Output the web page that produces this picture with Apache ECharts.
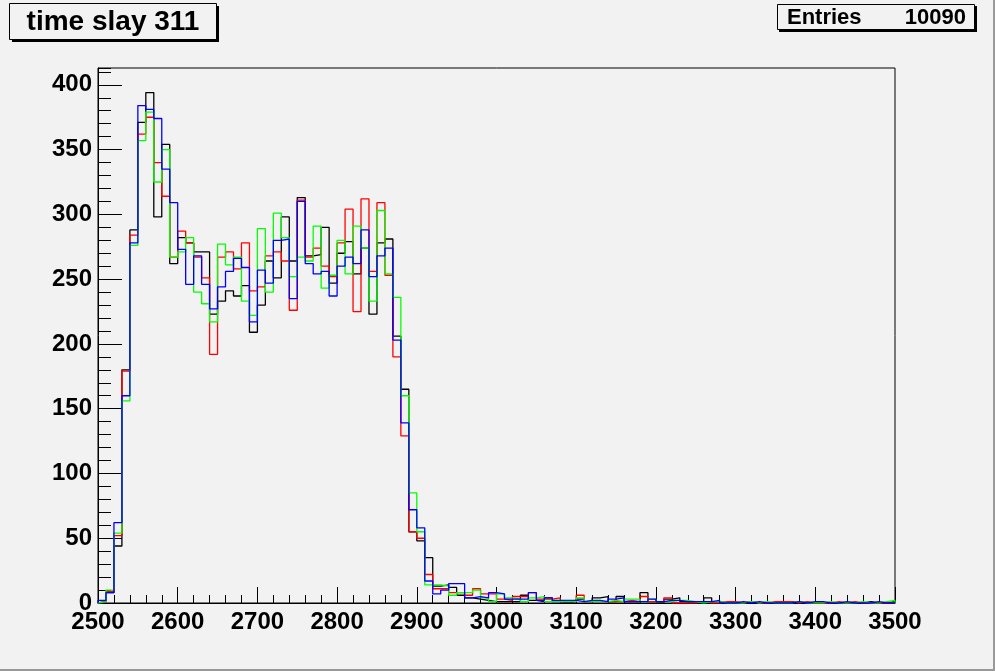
<!DOCTYPE html>
<html><head><meta charset="utf-8">
<script src="https://cdn.jsdelivr.net/npm/echarts@6/dist/echarts.min.js"></script>
<style>html,body{margin:0;padding:0;background:#f2f2f2}#c{width:995px;height:671px}</style>
</head><body><div id="c"></div>
<script>
const binStart = 2500;
const binWidth = 10;
const titleText = 'time slay 311';
const statsLabel = 'Entries';
const statsValue = '10090';

const blackVals = [
  1, 8, 44, 180, 288, 371, 394, 298, 354, 262,
  282, 278, 271, 271, 223, 233, 241, 237, 245, 209,
  230, 264, 251, 298, 264, 313, 268, 269, 290, 247,
  270, 279, 254, 274, 223, 278, 281, 206, 165, 55,
  48, 35, 13, 14, 12, 6, 4, 3, 2, 1,
  1, 1, 1, 6, 2, 1, 4, 1, 0, 1,
  3, 1, 4, 5, 1, 5, 1, 1, 8, 1,
  0, 3, 4, 1, 1, 0, 4, 1, 0, 0,
  0, 0, 0, 0, 0, 0, 1, 0, 0, 0,
  0, 0, 0, 0, 0, 0, 1, 0, 0, 1
];
const redVals = [
  1, 9, 52, 179, 284, 362, 375, 340, 314, 267,
  287, 278, 267, 251, 192, 267, 271, 258, 278, 241,
  244, 268, 271, 264, 226, 311, 267, 274, 260, 252,
  278, 304, 225, 312, 256, 309, 253, 190, 129, 55,
  50, 22, 11, 11, 8, 8, 6, 11, 7, 7,
  3, 2, 5, 5, 8, 3, 3, 4, 1, 1,
  6, 1, 1, 1, 1, 1, 2, 1, 5, 1,
  1, 4, 0, 0, 0, 1, 0, 0, 1, 1,
  0, 1, 0, 0, 1, 1, 1, 0, 1, 0,
  0, 0, 1, 0, 1, 0, 0, 0, 0, 0
];
const greenVals = [
  1, 10, 54, 156, 276, 357, 379, 325, 350, 267,
  271, 282, 240, 231, 217, 277, 261, 267, 233, 222,
  289, 240, 301, 282, 252, 267, 264, 291, 243, 253,
  280, 254, 291, 274, 233, 303, 254, 236, 160, 85,
  55, 14, 14, 13, 6, 8, 8, 10, 4, 1,
  7, 4, 3, 1, 4, 5, 1, 1, 1, 1,
  4, 1, 1, 1, 2, 1, 3, 3, 1, 3,
  1, 1, 2, 2, 1, 0, 1, 1, 0, 0,
  0, 1, 0, 1, 0, 0, 0, 1, 0, 0,
  0, 1, 0, 0, 0, 1, 0, 0, 1, 2
];
const blueVals = [
  2, 8, 62, 160, 278, 384, 381, 374, 335, 309,
  273, 246, 268, 246, 227, 244, 256, 266, 259, 217,
  257, 247, 280, 281, 235, 310, 262, 254, 256, 237,
  260, 267, 262, 288, 252, 268, 274, 203, 139, 72,
  58, 17, 7, 10, 15, 15, 4, 5, 4, 8,
  7, 3, 3, 3, 8, 2, 4, 2, 2, 2,
  1, 2, 2, 1, 3, 4, 1, 1, 1, 3,
  1, 2, 2, 1, 1, 1, 1, 2, 0, 0,
  1, 0, 1, 0, 0, 0, 0, 1, 0, 1,
  1, 0, 0, 1, 0, 0, 0, 1, 0, 0
];

function steps(vals) {
  const pts = [[binStart, 0]];
  vals.forEach((v, i) => pts.push([binStart + i * binWidth, v]));
  const end = binStart + vals.length * binWidth;
  pts.push([end, vals[vals.length - 1]]);
  pts.push([end, 0]);
  return pts;
}
function hist(name, vals, color) {
  return {
    name: name, type: 'line', step: 'end', data: steps(vals),
    showSymbol: false, symbol: 'none', animation: false,
    lineStyle: { color: color, width: 1.3 }, silent: true
  };
}

const FONT = 'Liberation Sans';
const chart = echarts.init(document.getElementById('c'), null, { renderer: 'canvas' });
const labelStyle = { color: '#000', fontFamily: FONT, fontWeight: 'bold', fontSize: 24, formatter: v => String(v) };
chart.setOption({
  animation: false,
  backgroundColor: '#f2f2f2',
  grid: { left: 98, right: 100, top: 68, bottom: 68, show: true, borderColor: '#000', borderWidth: 1, backgroundColor: '#f2f2f2' },
  xAxis: {
    type: 'value', min: 2500, max: 3500, interval: 100,
    axisLine: { show: true, onZero: false, lineStyle: { color: '#000', width: 1 } },
    axisTick: { show: true, inside: true, length: 16, lineStyle: { color: '#000', width: 1 } },
    minorTick: { show: true, splitNumber: 5, length: 8, lineStyle: { color: '#000', width: 1 } },
    splitLine: { show: false },
    axisLabel: Object.assign({ margin: 7 }, labelStyle)
  },
  yAxis: [{
    type: 'value', min: 0, max: 413, interval: 50,
    axisLine: { show: true, onZero: false, lineStyle: { color: '#000', width: 1 } },
    axisTick: { show: true, inside: true, length: 24, lineStyle: { color: '#000', width: 1 } },
    splitLine: { show: false },
    axisLabel: Object.assign({ margin: 6, showMaxLabel: false }, labelStyle)
  }, {
    type: 'value', min: 0, max: 413, interval: 10, position: 'left', offset: 0,
    axisLine: { show: false },
    axisTick: { show: true, inside: true, length: 13, lineStyle: { color: '#000', width: 1 } },
    splitLine: { show: false },
    axisLabel: { show: false }
  }],
  series: [
    hist('black', blackVals, '#000000'),
    hist('red', redVals, '#ff0000'),
    hist('green', greenVals, '#00ff00'),
    hist('blue', blueVals, '#0000ff')
  ],
  graphic: [
    { type: 'rect', shape: { x: 12, y: 6, width: 207, height: 36 }, style: { fill: '#000' } },
    { type: 'rect', shape: { x: 9.5, y: 3.5, width: 207, height: 36 }, style: { fill: '#f2f2f2', stroke: '#000', lineWidth: 1 } },
    { type: 'text', x: 113, y: 22, style: { text: titleText, fill: '#000', font: 'bold 28px "Liberation Sans"', textAlign: 'center', textVerticalAlign: 'middle' } },
    { type: 'rect', shape: { x: 779, y: 6, width: 198, height: 26 }, style: { fill: '#000' } },
    { type: 'rect', shape: { x: 777.5, y: 4.5, width: 197, height: 25 }, style: { fill: '#f2f2f2', stroke: '#000', lineWidth: 1 } },
    { type: 'text', x: 787, y: 18, style: { text: statsLabel, fill: '#000', font: 'bold 22px "Liberation Sans"', textAlign: 'left', textVerticalAlign: 'middle' } },
    { type: 'text', x: 966, y: 18, style: { text: statsValue, fill: '#000', font: 'bold 22px "Liberation Sans"', textAlign: 'right', textVerticalAlign: 'middle' } },
    { type: 'line', shape: { x1: 994, y1: 0, x2: 994, y2: 671 }, style: { stroke: '#999', lineWidth: 2 } },
    { type: 'line', shape: { x1: 0, y1: 670, x2: 995, y2: 670 }, style: { stroke: '#999', lineWidth: 2 } }
  ]
});
</script>
</body></html>
